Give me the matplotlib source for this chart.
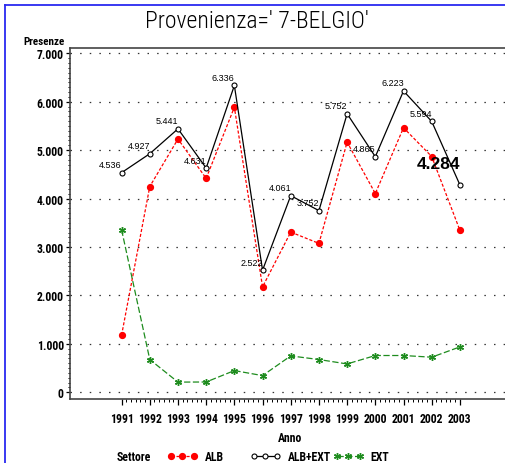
import numpy as np
import matplotlib
matplotlib.use("Agg")
import matplotlib.pyplot as plt
from matplotlib.lines import Line2D
from matplotlib.ticker import FixedLocator, FuncFormatter

# data
anni = [1991, 1992, 1993, 1994, 1995, 1996, 1997, 1998, 1999, 2000, 2001, 2002, 2003]
alb = [1180, 4250, 5230, 4418, 5887, 2177, 3309, 3075, 5166, 4105, 5463, 4869, 3346]
alb_ext = [4536, 4927, 5441, 4631, 6336, 2522, 4061, 3752, 5752, 4865, 6223, 5594, 4284]
ext = [3356, 677, 211, 213, 449, 345, 752, 677, 586, 760, 760, 725, 938]
y_ticks = [0, 1000, 2000, 3000, 4000, 5000, 6000, 7000]

narrow = ["Roboto Condensed", "DejaVu Sans"]
sans = ["Liberation Sans", "DejaVu Sans"]

W, H = 505, 464
fig = plt.figure(figsize=(W / 100, H / 100), dpi=100)
ax = fig.add_axes([70 / W, 1 - 400 / H, 1 - 70 / W, (400 - 49) / H])

# blue page frame
fig.add_artist(Line2D([5 / W, 1], [1 - 5.5 / H, 1 - 5.5 / H], transform=fig.transFigure, color="#2a2af0", lw=1.3))
fig.add_artist(Line2D([5 / W, 5 / W], [0, 1 - 5.5 / H], transform=fig.transFigure, color="#2a2af0", lw=1.3))

for v in y_ticks:
    ax.axhline(v, color="#333333", lw=0.9, ls=(0, (1.2, 6.5)), zorder=1)

ax.plot(anni, alb, color="red", lw=0.9, ls=(0, (2.5, 1.5)), marker="o", ms=4.2,
        mfc="red", mec="red", zorder=3, label="ALB")
ax.plot(anni, alb_ext, color="black", lw=0.9, ls="-", marker="o", ms=3.6,
        mfc="white", mec="black", mew=0.8, zorder=4, label="ALB+EXT")
ax.plot(anni, ext, color="#1e8c1e", lw=0.9, ls=(0, (5, 2)), marker=(6, 2, 0), ms=5,
        mec="#1e8c1e", mew=1.0, zorder=3, label="EXT")

for i, (a, v) in enumerate(zip(anni, alb_ext)):
    txt = f"{v:,}".replace(",", ".")
    if i == len(anni) - 1:
        ax.annotate(txt, (a, v), xytext=(-21, 21), textcoords="offset pixels",
                    ha="center", va="center", fontsize=12.5, fontweight="bold",
                    family=sans, zorder=5)
    else:
        ax.annotate(txt, (a, v), xytext=(-11, 8), textcoords="offset pixels",
                    ha="center", va="center", fontsize=6.5, family=sans, zorder=5)

ax.set_xlim(1989.17, 2004.6)
ax.set_ylim(-138, 7110)

ax.xaxis.set_major_locator(FixedLocator(anni))
ax.xaxis.set_minor_locator(FixedLocator(np.arange(1991, 2003.01, 1 / 6)))
ax.yaxis.set_major_locator(FixedLocator(y_ticks))
ax.yaxis.set_minor_locator(FixedLocator(np.arange(0, 7001, 100)))
ax.yaxis.set_major_formatter(FuncFormatter(lambda v, p: f"{int(v):,}".replace(",", ".")))

ax.tick_params(axis="x", which="major", length=4.5, width=0.9, pad=5, labelsize=8.5)
ax.tick_params(axis="x", which="minor", length=2.2, width=0.7)
ax.tick_params(axis="y", which="major", length=3, width=0.9, pad=1.5, labelsize=8.5)
ax.tick_params(axis="y", which="minor", length=1.6, width=0.7)
for lab in ax.get_xticklabels() + ax.get_yticklabels():
    lab.set_family(narrow)
    lab.set_fontweight("bold")

for s in ["top", "left", "bottom"]:
    ax.spines[s].set_color("#444444")
    ax.spines[s].set_linewidth(1.2)
ax.spines["right"].set_visible(False)

ax.set_xlabel("Anno", family=narrow, fontsize=8.5, fontweight="bold", va="center")
ax.xaxis.set_label_coords((290 - 70) / 435, (400 - 439) / 351)
ax.set_ylabel("Presenze", family=narrow, fontsize=8, fontweight="bold", rotation=0,
              ha="center", va="center")
ax.yaxis.set_label_coords((43.5 - 70) / 435, (400 - 42.5) / 351)

fig.text(256.5 / W, 1 - 21 / H, "Provenienza=' 7-BELGIO'", ha="center", va="center",
         fontsize=17, family=narrow, fontweight="light")

# legend row at the bottom
fig.text(117 / W, 1 - 458 / H, "Settore", ha="left", va="center", fontsize=8.5,
         family=narrow, fontweight="bold")
handles, labels = ax.get_legend_handles_labels()
for h, l, x in zip(handles, labels, [167, 250, 333]):
    fig.legend([h], [l], loc="center left", bbox_to_anchor=(x / W, 1 - 458 / H),
               frameon=False, numpoints=3, handlelength=2.6, handletextpad=0.6,
               borderpad=0, borderaxespad=0,
               prop={"family": narrow, "size": 8.5, "weight": "bold"})

fig.savefig("out.png", dpi=100)
